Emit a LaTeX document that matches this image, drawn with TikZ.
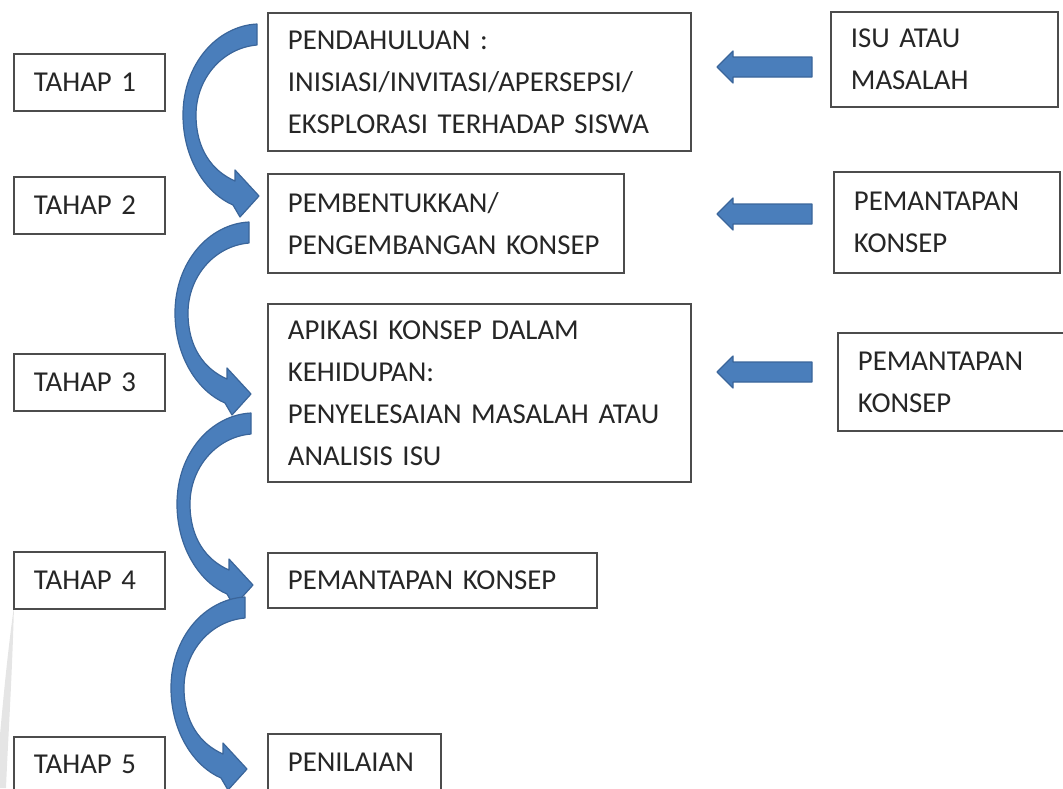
\documentclass[tikz,border=0pt]{standalone}
\usepackage{fontspec}
\setmainfont{Carlito}
\definecolor{arrowblue}{HTML}{4A7EBB}
\definecolor{arrowedge}{HTML}{3A659A}
\tikzset{
  box/.style={draw=black!70, line width=1.8pt, anchor=north west, align=left,
    inner xsep=20pt, inner ysep=0pt, text=black!85,
    font=\fontsize{28.8}{42}\selectfont},
  bluearrow/.style={fill=arrowblue, draw=arrowedge, line width=1.2pt, line join=round}
}
% curved block arrow, start given by the top right corner of its tail
\newcommand{\bendarrow}[1]{%
  \filldraw[bluearrow, shift={#1}] (0,0) .. controls (-40,2) and (-74,40) .. (-74,91)
    .. controls (-74,136) and (-50,170) .. (-24,181) -- (-17,193) -- (2,172) -- (-22,146)
    -- (-22,157) .. controls (-45,147) and (-61,125) .. (-61,91)
    .. controls (-61,55) and (-35,24) .. (0,21) -- cycle;}
% straight block arrow pointing left, start given by the middle of its tail
\newcommand{\backarrow}[1]{%
  \filldraw[bluearrow, shift={#1}] (0,-10) -- (-79,-10) -- (-79,-16) -- (-95,0)
    -- (-79,16) -- (-79,10) -- (0,10) -- cycle;}
\begin{document}
\begin{tikzpicture}[x=1pt,y=-1pt]
    \useasboundingbox (0,0) rectangle (1063,788);
    \fill [black!10] (14,606) .. controls (12,680) and (8,740) .. (6,788) -- (0,788)
      -- (0,735) .. controls (4,690) and (8,650) .. (14,606);

    % left column
    \node [box, text width=111pt, minimum height=57pt] (t1) at (13,53) {TAHAP 1};
    \node [box, text width=111pt, minimum height=57pt] (t2) at (13,176) {TAHAP 2};
    \node [box, text width=111pt, minimum height=57pt] (t3) at (13,353) {TAHAP 3};
    \node [box, text width=111pt, minimum height=57pt] (t4) at (13,551) {TAHAP 4};
    \node [box, text width=111pt, minimum height=55pt] (t5) at (13,736) {TAHAP 5};

    % middle column
    \node [box, text width=383pt, minimum height=138pt] (m1) at (267,12)
      {PENDAHULUAN :\\INISIASI/INVITASI/APERSEPSI/\\EKSPLORASI TERHADAP SISWA};
    \node [box, text width=316pt, minimum height=99pt] (m2) at (267,173)
      {PEMBENTUKKAN/\\PENGEMBANGAN KONSEP};
    \node [box, text width=383pt, minimum height=178pt] (m3) at (267,303)
      {APIKASI KONSEP DALAM\\KEHIDUPAN:\\PENYELESAIAN MASALAH ATAU\\ANALISIS ISU};
    \node [box, text width=289pt, minimum height=55pt] (m4) at (267,552) {PEMANTAPAN KONSEP};
    \node [box, text width=133pt, minimum height=57pt] (m5) at (267,733) {PENILAIAN};

    % right column
    \node [box, text width=187pt, minimum height=95pt] (r1) at (830,11) {ISU ATAU\\MASALAH};
    \node [box, text width=186pt, minimum height=101pt] (r2) at (833,171) {PEMANTAPAN\\KONSEP};
    \node [box, text width=193pt, minimum height=98pt] (r3) at (837,332) {PEMANTAPAN\\KONSEP};

    % arrows
    \bendarrow{(257,24)}
    \bendarrow{(249,222)}
    \bendarrow{(251,413)}
    \bendarrow{(245,597)}
    \backarrow{(812,67)}
    \backarrow{(812,214)}
    \backarrow{(812,372)}
\end{tikzpicture}
\end{document}
